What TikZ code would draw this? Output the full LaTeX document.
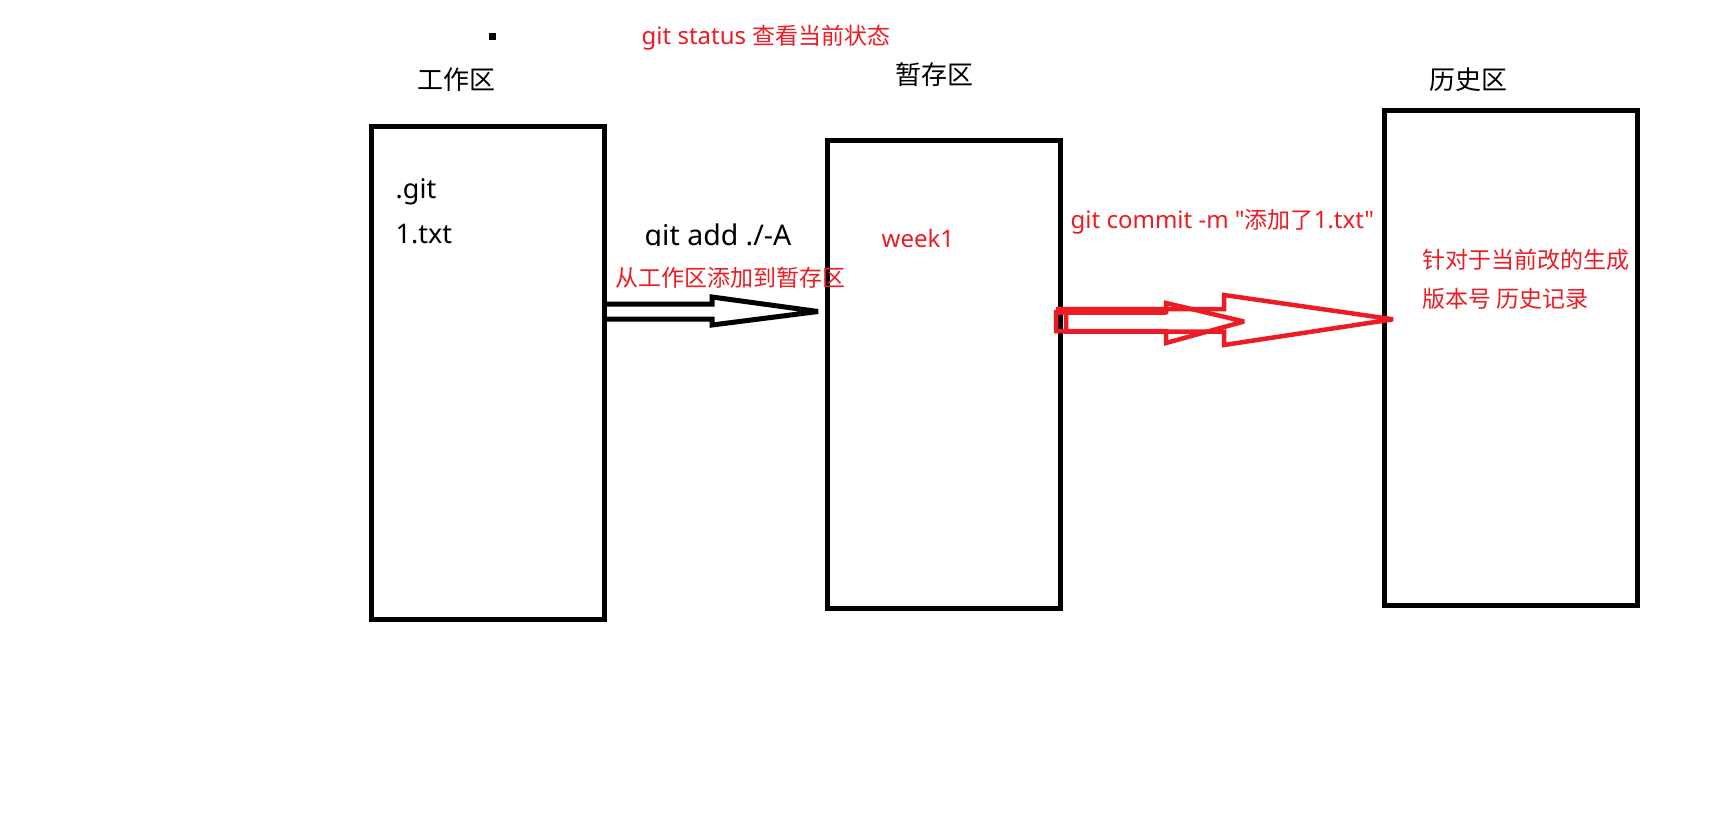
\documentclass[tikz,border=0pt]{standalone}
\usepackage{fontspec}
\setmainfont{Noto Sans}[Ligatures=TeXOff]
\newfontfamily\cjk{Noto Sans CJK SC}
\definecolor{pred}{RGB}{237,28,36}
\tikzset{
  box/.style={draw=black, line width=5pt, outer sep=0pt, inner sep=0pt, anchor=north west},
  blk/.style={font=\fontsize{27}{32}\selectfont, inner sep=0pt, text=black},
  blkb/.style={font=\fontsize{28.5}{33}\selectfont, inner sep=0pt, text=black},
  lbl/.style={font=\cjk\fontsize{26}{30}\selectfont, inner sep=0pt, text=black},
  rtxt/.style={font=\fontsize{24}{28}\selectfont, inner sep=0pt, text=pred},
  rcjk/.style={font=\cjk\fontsize{23}{28}\selectfont, inner sep=0pt, text=pred},
  barrow/.style={draw=black, line width=5pt, line join=miter, miter limit=3},
  rarrow/.style={draw=pred, line width=4.5pt, line join=miter, miter limit=3},
}
\begin{document}
\begin{tikzpicture}[x=1pt,y=-1pt]
\useasboundingbox[fill=white] (0,0) rectangle (1713,825);

% boxes
\node[box, minimum width=233pt, minimum height=492.5pt] (w) at (371.5,126.5) {};
\node[box, minimum width=233pt, minimum height=468pt] (s) at (827,140) {};
\node[box, minimum width=253pt, minimum height=495.5pt] (h) at (1384,110) {};

% titles
\node[lbl] (lw) at (456,79.5) {工作区};
\node[lbl] (ls) at (934,75) {暂存区};
\node[lbl] (lh) at (1468,80) {历史区};
\node[fill=black, minimum size=7pt, inner sep=0pt] (dot) at (492.5,36.5) {};
\node[rtxt, anchor=base west] (st) at (641.5,44.5) {git status {\cjk\fontsize{23}{28}\selectfont 查看当前状态}};

% contents
\node[blk, anchor=base west] (g1) at (395.5,198) {.git};
\node[blk, anchor=base west] (g2) at (395.5,243) {1.txt};
\node[rtxt, anchor=base west] (wk) at (881.5,247) {week1};
\node[rcjk, anchor=west] (r1) at (1422,260) {针对于当前改的生成};
\node[rcjk, anchor=west] (r2) at (1422,299) {版本号 历史记录};

% black arrow
\coordinate (ba1) at (0,304);
\coordinate (ba2) at (0,319);
\draw[barrow] (w.east |- ba1) -- (712,304) -- (712,297) -- (818,311.5) -- (712,325) -- (712,319) -- (w.east |- ba2);
\begin{scope}
  \clip (600,190) rectangle (820,245.5);
  \node[blkb, anchor=base west] (ga) at (644.5,245) {git add ./-A};
\end{scope}
\node[rcjk, anchor=west] (fa) at (615.5,278) {从工作区添加到暂存区};

% red arrows
\coordinate (ra1) at (1056,312);
\coordinate (ra2) at (1066,309);
\draw[rarrow] (ra1) -- (1166,312) -- (1166,303) -- (1244,321.5) -- (1166,343) -- (1166,331) -- (ra1 |- 0,331) -- cycle;
\draw[rarrow] (ra2) -- (1224,309) -- (1224,295) -- (1393,319.3) -- (1224,345) -- (1224,331.5) -- (ra2 |- 0,331.5) -- cycle;
\draw[draw=pred, line width=8.5pt] (ra1 |- 0,310.8) -- (1166,310.8);
\node[rtxt, anchor=base west] (cm) at (1070.5,228) {git commit -m "{\cjk\fontsize{23}{28}\selectfont 添加了}1.txt"};
\end{tikzpicture}
\end{document}
